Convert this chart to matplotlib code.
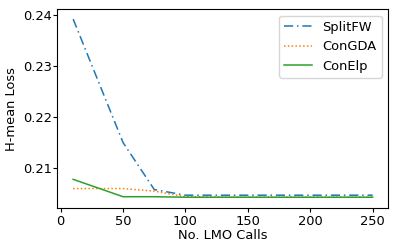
import numpy as np
import matplotlib
matplotlib.use('Agg')
import matplotlib.pyplot as plt

lmo_calls = [10, 50, 75, 100, 150, 200, 250]
splitfw = [0.2391, 0.2149, 0.2057, 0.2046, 0.2046, 0.2046, 0.2046]
congda = [0.2059, 0.2059, 0.2054, 0.2043, 0.2042, 0.2042, 0.2042]
conelp = [0.2077, 0.2043, 0.2043, 0.2042, 0.2042, 0.2042, 0.2042]

plt.rcParams['font.size'] = 9.4
plt.rcParams['xtick.major.size'] = 2.6
plt.rcParams['ytick.major.size'] = 2.6
plt.rcParams['xtick.major.pad'] = 2
plt.rcParams['ytick.major.pad'] = 1

fig = plt.figure(figsize=(3.98, 2.5), dpi=100)
ax = fig.add_axes([0.144, 0.167, 0.831, 0.797])

lw = 1.1
ax.plot(lmo_calls, splitfw, linestyle=(0, (6, 2.5, 1, 2.5)), color='tab:blue', lw=lw, label='SplitFW')
ax.plot(lmo_calls, congda, linestyle=(0, (1, 1.5)), color='tab:orange', lw=lw, label='ConGDA')
ax.plot(lmo_calls, conelp, linestyle='-', color='tab:green', lw=lw, label='ConElp')

ax.set_xlabel('No. LMO Calls')
ax.set_ylabel('H-mean Loss')
ax.xaxis.set_label_coords(0.5, -0.103)
ax.yaxis.set_label_coords(-0.118, 0.5)
ax.set_xticks([0, 50, 100, 150, 200, 250])
ax.set_yticks([0.21, 0.22, 0.23, 0.24])
ax.set_xlim(-2.7, 262.3)
ax.set_ylim(0.20204, 0.24108)
ax.legend(loc='upper right', handlelength=2.1, labelspacing=0.5)

fig.savefig('out.png', dpi=100)
